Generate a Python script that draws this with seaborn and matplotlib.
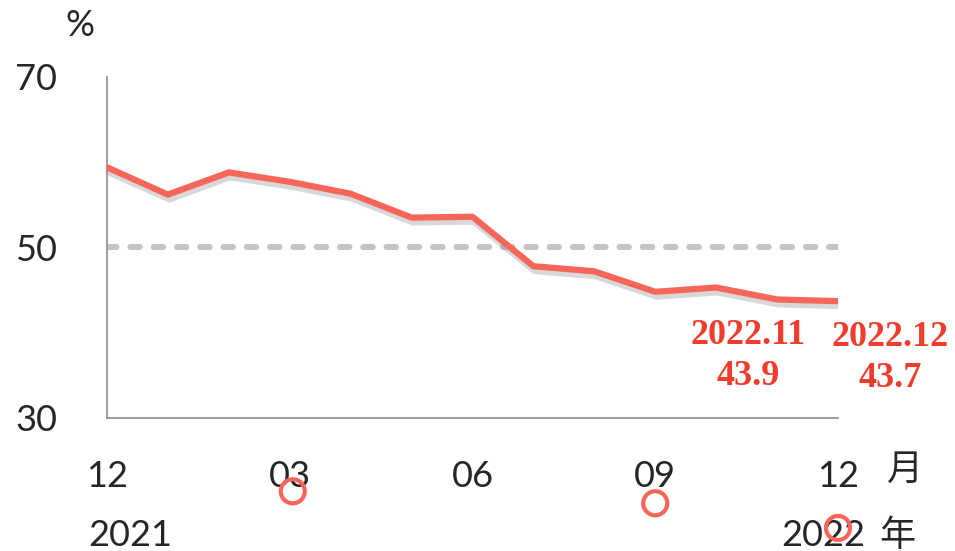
import matplotlib
matplotlib.use("Agg")
import matplotlib.pyplot as plt
import matplotlib.patheffects as pe
import pandas as pd
import seaborn as sns

# data
months = list(range(13))
pmi = [59.4, 56.2, 58.8, 57.7, 56.3, 53.5, 53.6, 47.8, 47.2, 44.8, 45.3, 43.9, 43.7]
tick_pos = [0, 3, 6, 9, 12]
tick_labels = ["12", "03", "06", "09", "12"]
ref_level = 50
notes = [(11, "2022.11\n43.9"), (12, "2022.12\n43.7")]
note_shift = [-0.47, 0.85]
note_y = [37.3, 37.0]
circle_x = [3.05, 9.0, 12.0]
circle_y = [21.4, 20.0, 17.1]

df = pd.DataFrame({"month": months, "value": pmi})

sns.set_style("white")
plt.rcParams["font.family"] = ["Lato", "Noto Sans CJK SC", "DejaVu Sans"]

fig = plt.figure(figsize=(9.55, 5.51), dpi=100)
ax = fig.add_axes([0.112, 0.2414, 0.7655, 0.619])

line_col = "#F8665A"
text_col = "#F03C2D"
fs = 26

ax.axhline(ref_level, color="#C4C4C4", lw=4.3, ls=(0, (1.6, 2.3)),
           dash_capstyle="round", zorder=1)

sns.lineplot(data=df, x="month", y="value", color=line_col, lw=4.5, ax=ax,
             zorder=3,
             path_effects=[pe.SimpleLineShadow(offset=(1, -3.5), shadow_color="gray",
                                               alpha=0.3),
                           pe.Normal()])

ax.set_xlim(0, 12)
ax.set_ylim(30, 70)
ax.set_yticks([30, 50, 70])
ax.set_xticks(tick_pos)
ax.set_xticklabels(tick_labels)
ax.set_xlabel("")
ax.set_ylabel("")

for side in ["top", "right"]:
    ax.spines[side].set_visible(False)
for side in ["left", "bottom"]:
    ax.spines[side].set_color("#8C8C8C")
    ax.spines[side].set_linewidth(1.2)

ax.tick_params(axis="y", direction="out", length=10, width=1.2, color="#8C8C8C",
               labelsize=fs, pad=26)
ax.tick_params(axis="x", direction="in", length=9, width=1.2, color="#8C8C8C",
               labelsize=fs, pad=30)

for (x, txt), dx, y in zip(notes, note_shift, note_y):
    ax.text(x + dx, y, txt, color=text_col,
            fontsize=26, fontweight="bold", family="Liberation Serif",
            ha="center", va="center", linespacing=1.32, clip_on=False)

trans = ax.get_xaxis_transform()
ax.text(-0.037, 1.15, "%", transform=ax.transAxes, fontsize=fs, ha="center", va="center")
ax.text(13.1, -0.15, "月", transform=trans, fontsize=fs, ha="center", va="center")
ax.text(0.38, -0.345, "2021", transform=trans, fontsize=fs, ha="center", va="center")
ax.text(11.75, -0.345, "2022", transform=trans, fontsize=fs, ha="center", va="center")
ax.text(12.98, -0.345, "年", transform=trans, fontsize=fs, ha="center", va="center")

ax.scatter(circle_x, circle_y, s=300, facecolors="none", edgecolors=line_col,
           linewidths=3, clip_on=False, zorder=5)

fig.savefig("out.png", dpi=100)
